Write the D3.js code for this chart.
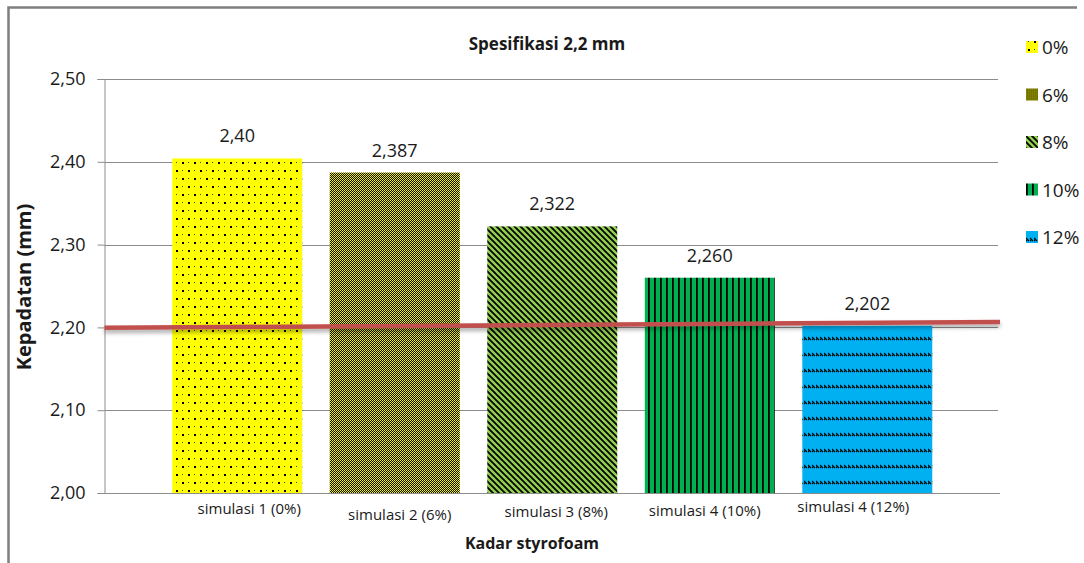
<!DOCTYPE html>
<html>
<head>
<meta charset="utf-8">
<script src="https://cdn.jsdelivr.net/npm/d3@7"></script>
<style>
  html, body { margin: 0; padding: 0; background: #fff; }
  svg { display: block; }
  text { font-family: "Open Sans", "Noto Sans", sans-serif; fill: #1a1a1a; }
</style>
</head>
<body>
<svg id="chart" width="1084" height="563"></svg>
<script>
// ---- data ----
const categories = ["simulasi 1 (0%)", "simulasi 2 (6%)", "simulasi 3 (8%)", "simulasi 4 (10%)", "simulasi 4 (12%)"];
const seriesNames = ["0%", "6%", "8%", "10%", "12%"];
const values = [2.404, 2.387, 2.322, 2.260, 2.202];
const valueLabels = ["2,40", "2,387", "2,322", "2,260", "2,202"];
const yTicks = [2.00, 2.10, 2.20, 2.30, 2.40, 2.50];
const specLine = [2.1995, 2.2065];   // hand-drawn specification line (start, end)
const chartTitle = "Spesifikasi 2,2 mm";
const xTitle = "Kadar styrofoam";
const yTitle = "Kepadatan (mm)";

// ---- layout (not data) ----
const plot = { left: 104.5, right: 1000, top: 79, bottom: 493 };
const labelShift = [[12, 21], [5, 27], [4, 24], [-5, 23], [-14, 19]]; // hand-placed text boxes

const svg = d3.select("#chart");
const defs = svg.append("defs");

// patterns
function pattern(id, w, h, bg, draw) {
  const p = defs.append("pattern").attr("id", id).attr("patternUnits", "userSpaceOnUse")
    .attr("width", w).attr("height", h);
  p.append("rect").attr("width", w).attr("height", h).attr("fill", bg);
  draw(p);
}
pattern("p0", 12, 16, "#FFFF00", p => {
  p.append("rect").attr("x", 2).attr("y", 2).attr("width", 2).attr("height", 2).attr("fill", "#000");
  p.append("rect").attr("x", 8).attr("y", 10).attr("width", 2).attr("height", 2).attr("fill", "#000");
  p.append("rect").attr("x", 8).attr("y", 2).attr("width", 1).attr("height", 1).attr("fill", "#444");
  p.append("rect").attr("x", 2).attr("y", 10).attr("width", 1).attr("height", 1).attr("fill", "#444");
});
pattern("p1", 2, 2, "#000", p => {
  p.append("rect").attr("x", 0).attr("y", 0).attr("width", 1).attr("height", 1).attr("fill", "#FFFF00");
  p.append("rect").attr("x", 1).attr("y", 1).attr("width", 1).attr("height", 1).attr("fill", "#E6E600");
});
pattern("p2", 6, 6, "#92D050", p => {
  p.append("path").attr("d", "M-3,3 L3,9 M0,0 L6,6 M3,-3 L9,3")
    .attr("stroke", "#000").attr("stroke-width", 1.8);
});
pattern("p3", 6, 8, "#00B050", p => {
  p.append("rect").attr("x", 0).attr("y", 0).attr("width", 1.8).attr("height", 8).attr("fill", "#000");
});
pattern("p4", 4, 16, "#00B0F0", p => {
  p.append("path").attr("d", "M0,1 L3,4 M-1,2 L1,4").attr("stroke", "#000").attr("stroke-width", 1.2);
});
const fills = ["url(#p0)", "url(#p1)", "url(#p2)", "url(#p3)", "url(#p4)"];

const shadow = defs.append("filter").attr("id", "shadow").attr("x", "-5%").attr("y", "-200%")
  .attr("width", "110%").attr("height", "500%");
shadow.append("feDropShadow").attr("dx", 0).attr("dy", 3).attr("stdDeviation", 2)
  .attr("flood-color", "#000").attr("flood-opacity", 0.35);

// outer border
svg.append("path").attr("d", "M8.5,563 L8.5,7.5 L1077,7.5")
  .attr("fill", "none").attr("stroke", "#7f7f7f").attr("stroke-width", 2.5);

// scales
const y = d3.scaleLinear().domain([2.0, 2.5]).range([plot.bottom, plot.top]);
const x = d3.scaleBand().domain(categories).range([plot.left, plot.right])
  .paddingInner(0.175).paddingOuter(0.43);

// gridlines
svg.append("g").selectAll("line").data(yTicks.slice(1)).join("line")
  .attr("x1", plot.left).attr("x2", plot.right - 2)
  .attr("y1", d => Math.round(y(d)) + 0.5).attr("y2", d => Math.round(y(d)) + 0.5)
  .attr("stroke", "#8c8c8c").attr("stroke-width", 1);

// y axis
const yAxis = svg.append("g").attr("transform", `translate(${plot.left},0)`)
  .call(d3.axisLeft(y).tickValues(yTicks).tickSize(7).tickPadding(12)
    .tickFormat(d => d3.format(".2f")(d).replace(".", ",")));
yAxis.select(".domain").attr("stroke", "#8c8c8c");
yAxis.selectAll(".tick line").attr("stroke", "#8c8c8c");
yAxis.selectAll(".tick text").attr("font-size", 18).attr("fill", "#1a1a1a")
  .attr("font-family", "Open Sans, sans-serif");

// bars
svg.append("g").selectAll("rect").data(values).join("rect")
  .attr("x", (d, i) => x(categories[i]))
  .attr("width", x.bandwidth())
  .attr("y", d => y(d))
  .attr("height", d => y(2.0) - y(d))
  .attr("fill", (d, i) => fills[i]);

// x axis baseline
svg.append("line").attr("x1", plot.left).attr("x2", plot.right)
  .attr("y1", plot.bottom + 0.5).attr("y2", plot.bottom + 0.5)
  .attr("stroke", "#8c8c8c");

// value labels
svg.append("g").selectAll("text").data(values).join("text")
  .attr("x", (d, i) => x(categories[i]) + x.bandwidth() / 2)
  .attr("y", d => y(d) - 16)
  .attr("text-anchor", "middle").attr("font-size", 18)
  .text((d, i) => valueLabels[i]);

// category labels
svg.append("g").selectAll("text").data(categories).join("text")
  .attr("x", (d, i) => x(d) + x.bandwidth() / 2 + labelShift[i][0])
  .attr("y", (d, i) => plot.bottom + labelShift[i][1])
  .attr("text-anchor", "middle").attr("font-size", 15).attr("fill", "#262626")
  .text(d => d);

// spec line
svg.append("line")
  .attr("x1", plot.left).attr("x2", plot.right)
  .attr("y1", y(specLine[0])).attr("y2", y(specLine[1]))
  .attr("stroke", "#C0504D").attr("stroke-width", 4.5)
  .attr("filter", "url(#shadow)");

// titles
svg.append("text").attr("x", 547).attr("y", 50).attr("text-anchor", "middle")
  .attr("font-size", 17).attr("font-weight", "bold").text(chartTitle);
svg.append("text").attr("x", 532).attr("y", 549).attr("text-anchor", "middle")
  .attr("font-size", 16).attr("font-weight", "bold").text(xTitle);
svg.append("text").attr("transform", "translate(31,287) rotate(-90)").attr("text-anchor", "middle")
  .attr("font-size", 20).attr("font-weight", "bold").text(yTitle);

// legend
const leg = svg.append("g").selectAll("g").data(seriesNames).join("g")
  .attr("transform", (d, i) => `translate(1026,${47 + i * 47.5})`);
leg.append("rect").attr("x", 0).attr("y", -6).attr("width", 12).attr("height", 12)
  .attr("fill", (d, i) => fills[i]);
leg.append("text").attr("x", 16).attr("y", 7).attr("font-size", 19).text(d => d);
</script>
</body>
</html>
